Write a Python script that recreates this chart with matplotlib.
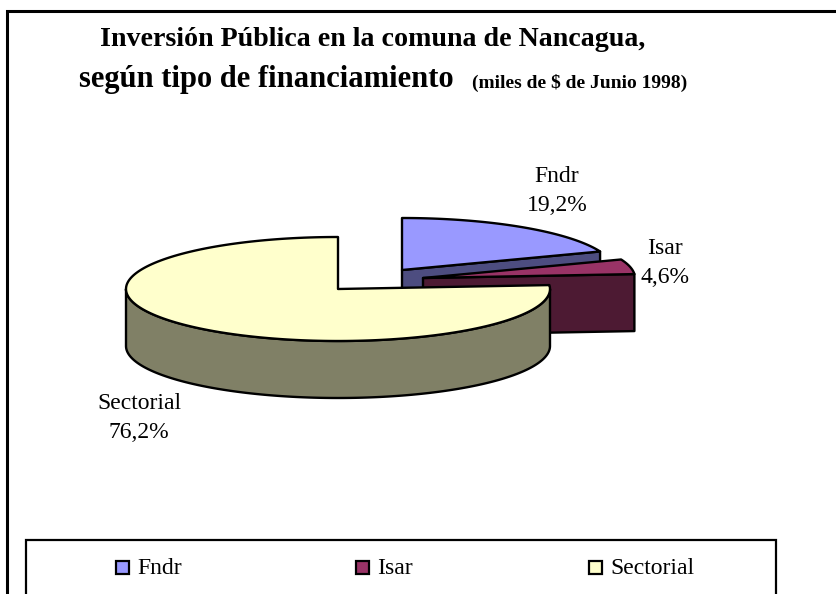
import numpy as np
import matplotlib
matplotlib.use('Agg')
import matplotlib.pyplot as plt
from matplotlib.patches import Polygon, Rectangle

categories = ['Fndr', 'Isar', 'Sectorial']
shares = [19.2, 4.6, 76.2]
top_colors = ['#9999FF', '#993366', '#FFFFCC']
side_colors = ['#4D4D80', '#4D1A33', '#808066']

# pixel layout of the exploded pie
centers = [(402, 270), (423, 278), (338, 289)]
label_pos = [(557, 191), (665, 263), (139, 418)]
legend_x = [116, 356, 589]
rx, ry, depth = 212, 52, 57

plt.rcParams['font.family'] = ['Liberation Serif', 'DejaVu Serif']

fig = plt.figure(figsize=(8.37, 5.94), dpi=100)
ax = fig.add_axes([0, 0, 1, 1])
ax.set_xlim(0, 837)
ax.set_ylim(594, 0)
ax.axis('off')


def arc(cx, cy, a0, a1):
    # angles clockwise from 12 o'clock, like the spreadsheet pie
    t = np.radians(np.linspace(a0, a1, 180))
    return np.column_stack([cx + rx * np.sin(t), cy - ry * np.cos(t)])


def add_poly(pts, color):
    ax.add_patch(Polygon(pts, closed=True, facecolor=color, edgecolor='black',
                         linewidth=1.7, joinstyle='round'))


# outer frame, runs off the right and bottom of the picture
ax.plot([837, 7, 7], [11, 11, 594], color='black', lw=2.2, solid_joinstyle='miter')

ends = np.cumsum(shares) * 3.6
starts = np.concatenate([[0], ends[:-1]])

for i in range(3):
    cx, cy = centers[i]
    a0, a1 = starts[i], ends[i]
    # cut face on the closing edge, only the two small slices show it
    if a1 < 180:
        tip = arc(cx, cy, a1, a1)[0]
        add_poly([(cx, cy), tip, (tip[0], tip[1] + depth), (cx, cy + depth)], side_colors[i])
    # rim facing the viewer
    if a1 > 90:
        rim = arc(cx, cy, max(a0, 90), min(a1, 270))
        lower = rim[::-1] + [0, depth]
        add_poly(np.vstack([rim, lower]), side_colors[i])
    top = arc(cx, cy, a0, a1)
    add_poly(np.vstack([[(cx, cy)], top]), top_colors[i])

for name, val, (x, y) in zip(categories, shares, label_pos):
    txt = '%s\n%.1f%%' % (name, val)
    ax.text(x, y, txt.replace('.', ','), ha='center', va='center', fontsize=17,
            linespacing=1.45, color='black')

ax.text(100, 40, 'Inversión Pública en la comuna de Nancagua,', fontsize=20.2,
        fontweight='bold', va='center', ha='left')
ax.text(79, 80, 'según tipo de financiamiento', fontsize=22,
        fontweight='bold', va='center', ha='left')
ax.text(472, 83, '(miles de $ de Junio 1998)', fontsize=14,
        fontweight='bold', va='center', ha='left')

# legend box, bottom edge is cut off by the picture
ax.plot([26, 26, 776, 776], [594, 540, 540, 594], color='black', lw=1.6, solid_joinstyle='miter')
for name, color, x in zip(categories, top_colors, legend_x):
    ax.add_patch(Rectangle((x, 561), 13, 13, facecolor=color, edgecolor='black', linewidth=1.6))
    ax.text(x + 21, 569, name, fontsize=17, va='center', ha='left')

fig.savefig('out.png', dpi=100)
